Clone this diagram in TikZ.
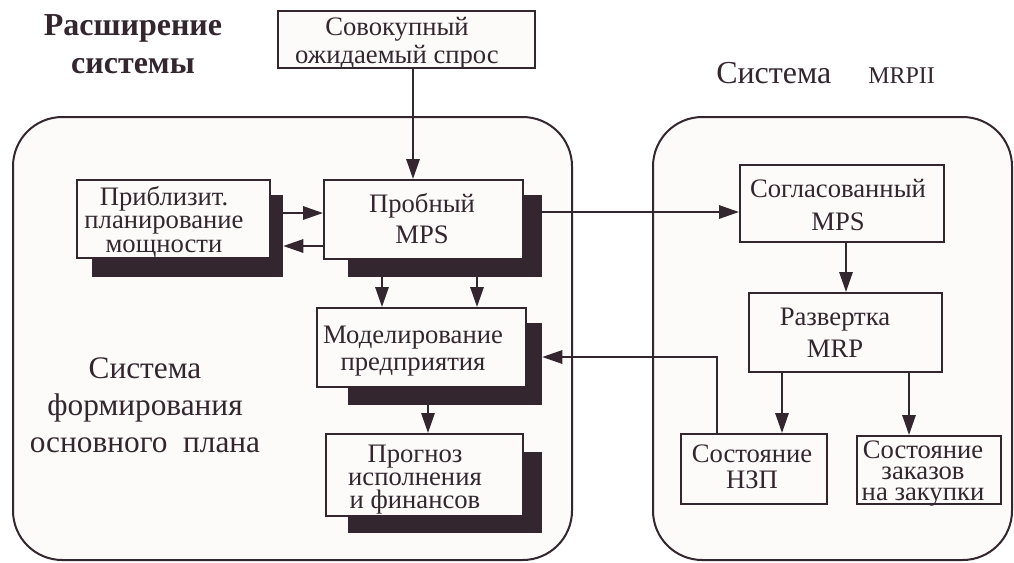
\documentclass[tikz,border=0pt]{standalone}
\usepackage{fontspec}
\setmainfont{Liberation Serif}
\usetikzlibrary{arrows.meta}
\definecolor{dk}{HTML}{34262F}
\definecolor{bg}{HTML}{FCFBFA}
\tikzset{
  pbox/.style={draw=dk, line width=1.5pt, fill=bg, inner sep=0pt},
  shbox/.style={fill=dk, draw=none, inner sep=0pt},
  txt/.style={text=dk, align=center, anchor=base, inner sep=0pt},
  container/.style={draw=dk, line width=1.5pt, fill=bg, rounded corners=37pt},
  arr/.style={draw=dk, line width=1.5pt, -{Triangle[length=15pt,width=10pt]}},
  ln/.style={draw=dk, line width=1.5pt}
}
\begin{document}
\begin{tikzpicture}[x=0.75pt,y=-0.75pt]
\useasboundingbox (0,0) rectangle (1014,562);
\fill[white] (0,0) rectangle (1014,562);
% containers
\draw[container] (13,117) rectangle (572,560);
\draw[container] (653,117) rectangle (1012,560);
% titles (anchor = baseline of last line)
\node[txt, font=\fontsize{24}{28.5}\selectfont\bfseries] (title) at (133,73) {Расширение\\системы};
\node[txt, anchor=base west, font=\fontsize{24}{28}\selectfont] (sysA) at (716,83) {Система};
\node[txt, anchor=base west, font=\fontsize{18}{22}\selectfont] (sysB) at (868,83) {MRPII};
\node[txt, font=\fontsize{23.5}{27.4}\selectfont] (sysC) at (145,452) {Система\\формирования\\основного\ \ плана};
% shadows
\node[shbox, minimum width=143.25pt, minimum height=61.5pt] (pribl-sh) at (187.5,236) {};
\node[shbox, minimum width=145.5pt, minimum height=61.5pt] (prob-sh) at (445,236) {};
\node[shbox, minimum width=145.5pt, minimum height=61.5pt] (model-sh) at (445,364) {};
\node[shbox, minimum width=145.5pt, minimum height=60.75pt] (progn-sh) at (445,492.5) {};
% boxes
\node[pbox, minimum width=192.75pt, minimum height=42.75pt] (sov) at (406.5,39.5) {};
\node[pbox, minimum width=144.75pt, minimum height=58.5pt] (pribl) at (173.5,219) {};
\node[pbox, minimum width=149.25pt, minimum height=59.25pt] (prob) at (423.5,219.5) {};
\node[pbox, minimum width=156.75pt, minimum height=59.25pt] (model) at (421.5,347.5) {};
\node[pbox, minimum width=147.75pt, minimum height=61.5pt] (progn) at (424.5,475) {};
\node[pbox, minimum width=153pt, minimum height=57.75pt] (sogl) at (842,203.5) {};
\node[pbox, minimum width=144.75pt, minimum height=59.25pt] (razv) at (845.5,332.5) {};
\node[pbox, minimum width=109.5pt, minimum height=52.5pt] (nzp) at (754,469) {};
\node[pbox, minimum width=108pt, minimum height=51pt] (zak) at (929,470) {};
% box texts (anchor = baseline of last line)
\node[txt, font=\fontsize{20}{21}\selectfont] (sov-t) at (397,63) {Совокупный\\ожидаемый спрос};
\node[txt, font=\fontsize{20}{17.6}\selectfont] (pribl-t) at (164,252) {Приблизит.\\планирование\\мощности};
\node[txt, font=\fontsize{20}{23.25}\selectfont] (prob-t) at (422,243) {Пробный\\MPS};
\node[txt, font=\fontsize{20}{20.25}\selectfont] (model-t) at (413,370) {Моделирование\\предприятия};
\node[txt, font=\fontsize{20}{17.25}\selectfont] (progn-t) at (415,508) {Прогноз\\исполнения\\и финансов};
\node[txt, font=\fontsize{20}{24.75}\selectfont] (sogl-t) at (838,230) {Согласованный\\MPS};
\node[txt, font=\fontsize{20}{24}\selectfont] (razv-t) at (835,357) {Развертка\\MRP};
\node[txt, font=\fontsize{20}{19.5}\selectfont] (nzp-t) at (752,488) {Состояние\\НЗП};
\node[txt, font=\fontsize{20}{15.75}\selectfont] (zak-t) at (923,500) {Состояние\\заказов\\на закупки};
% connectors
\draw[arr] (sov.south -| 413,0) -- (prob.north -| 413,0);
\draw[arr] (pribl-sh.east |- 0,213) -- (prob.west |- 0,213);
\draw[arr] (prob.west |- 0,246) -- (pribl-sh.east |- 0,246);
\draw[arr] (prob-sh.east |- 0,212) -- (sogl.west |- 0,212);
\draw[arr] (prob-sh.south -| 382,0) -- (model.north -| 382,0);
\draw[arr] (prob-sh.south -| 477,0) -- (model.north -| 477,0);
\draw[arr] (model-sh.south -| 428,0) -- (progn.north -| 428,0);
\draw[arr] (sogl.south -| 846,0) -- (razv.north -| 846,0);
\draw[arr] (razv.south -| 782,0) -- (nzp.north -| 782,0);
\draw[arr] (razv.south -| 909,0) -- (zak.north -| 909,0);
\coordinate (bend) at (717,357);
\draw[arr] (nzp.north -| bend) -- (bend) -- (model-sh.east |- bend);
\end{tikzpicture}
\end{document}
